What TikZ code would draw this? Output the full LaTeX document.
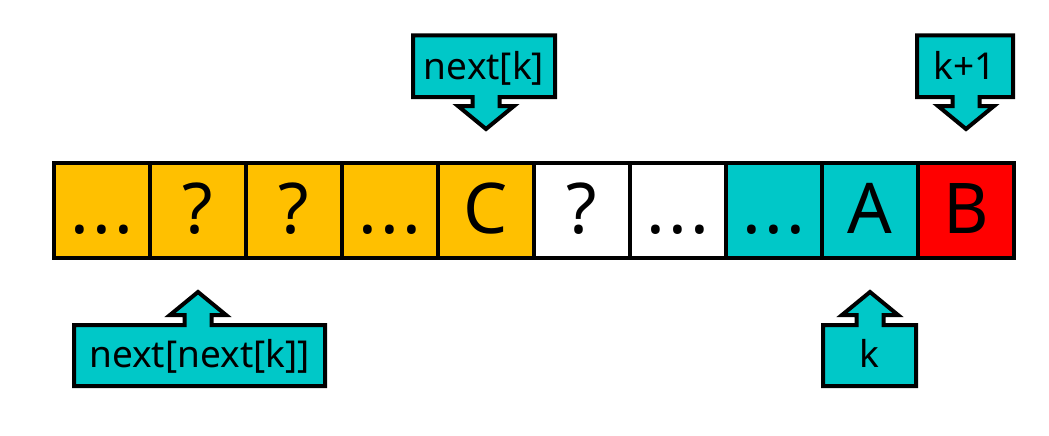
\documentclass[tikz,border=0pt]{standalone}
\usepackage{fontspec}
\setmainfont{Noto Sans}
\definecolor{orng}{RGB}{255,192,0}
\definecolor{tealc}{RGB}{0,200,200}
\definecolor{redc}{RGB}{255,0,0}
\newcommand{\threedots}{.\kern3pt.\kern3pt.}
\tikzset{
  cellbox/.style={draw=black,line width=4pt,minimum width=96pt,minimum height=94.5pt,inner sep=0pt,outer sep=0pt},
  celltxt/.style={font=\fontsize{70}{80}\selectfont,anchor=base,inner sep=0pt},
  calltxt/.style={font=\fontsize{37}{44}\selectfont,anchor=base,inner sep=0pt},
  callshape/.style={draw=black,fill=tealc,line width=4pt,miter limit=10,line join=miter},
}
% down callout: x1 x2 y1 y2 cx
\newcommand{\calldownpath}[5]{%
  \path[callshape] (#1,#3) -- (#2,#3) -- (#2,#4) -- (#5+13.5,#4) -- (#5+13.5,#4+9) -- (#5+28,#4+9)
    -- (#5,#4+32) -- (#5-28,#4+9) -- (#5-13.5,#4+9) -- (#5-13.5,#4) -- (#1,#4) -- cycle;}
% up callout: x1 x2 y1 y2 cx (y1 top of box)
\newcommand{\calluppath}[5]{%
  \path[callshape] (#1,#4) -- (#2,#4) -- (#2,#3) -- (#5+13.5,#3) -- (#5+13.5,#3-10) -- (#5+28,#3-10)
    -- (#5,#3-33) -- (#5-28,#3-10) -- (#5-13.5,#3-10) -- (#5-13.5,#3) -- (#1,#3) -- cycle;}
\begin{document}
\begin{tikzpicture}[x=1pt,y=-1pt]
\useasboundingbox (0,0) rectangle (1049,436);
% cells
\foreach \i/\col/\t in {1/orng/\threedots,2/orng/?,3/orng/?,4/orng/\threedots,5/orng/C,6/white/?,7/white/\threedots,8/tealc/\threedots,9/tealc/A,10/redc/B}{
  \node[cellbox,fill=\col] (c\i) at (54+96*\i-48,210.25) {};
  \node[celltxt] (t\i) at (54+96*\i-48,233) {\t};
}
% callouts
\calldownpath{413}{555}{35.5}{97}{486}
\node[calltxt] (nk) at (484,79) {next[k]};
\calldownpath{917}{1013}{35.5}{97}{966}
\node[calltxt] (kp) at (965,79) {k+1};
\calluppath{74}{325}{325}{386}{198}
\node[calltxt] (nnk) at (199.5,367) {next[next[k]]};
\calluppath{823}{916}{325}{386}{870}
\node[calltxt] (kk) at (869.5,367) {k};
\end{tikzpicture}
\end{document}
